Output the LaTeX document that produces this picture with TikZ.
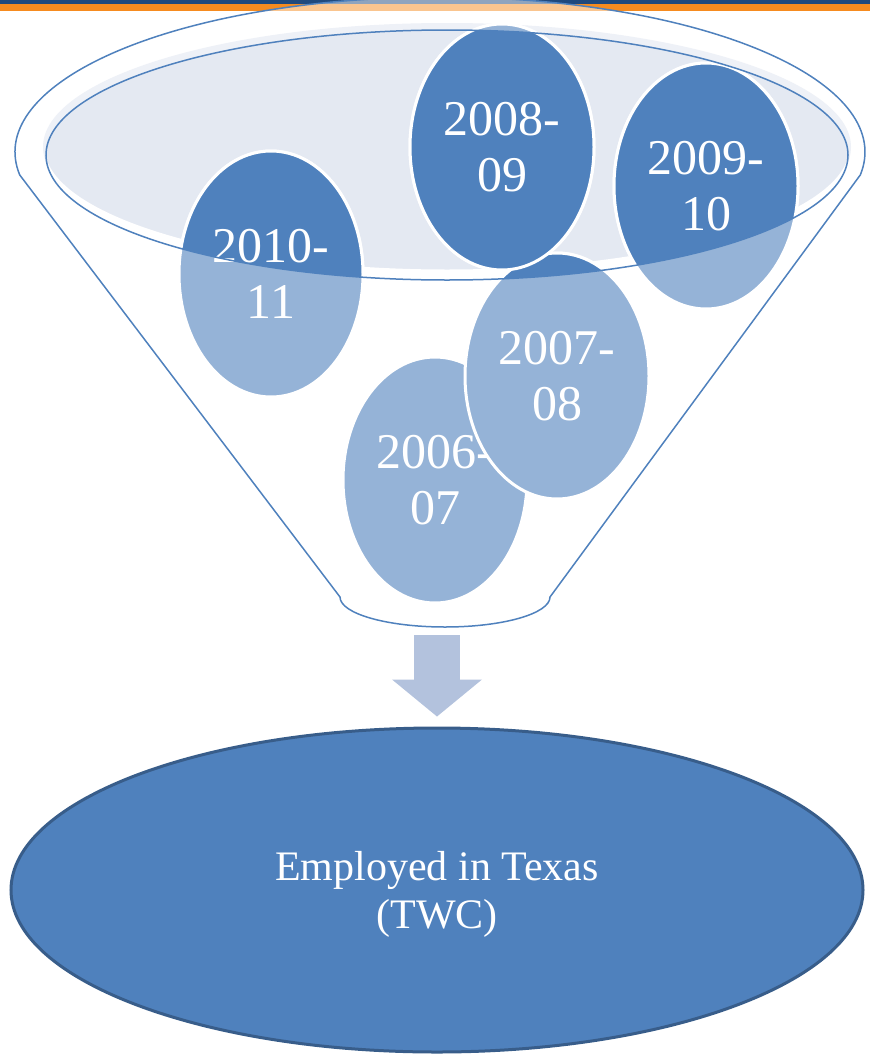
\documentclass[tikz,border=0pt]{standalone}
\usepackage{fontspec}
\setmainfont{Liberation Serif}
\usepackage{tikz}
\usetikzlibrary{shapes.geometric, arrows.meta}

\definecolor{accentblue}{HTML}{4F81BD}
\definecolor{paleblue}{HTML}{95B3D7}
\definecolor{rimfill}{HTML}{E4E9F2}
\definecolor{rimglow}{HTML}{EEF1F7}
\definecolor{flowblue}{HTML}{B3C2DD}
\definecolor{twcborder}{HTML}{385D8A}
\definecolor{barblue}{HTML}{1F497D}
\definecolor{barorange}{HTML}{F68B1F}

\tikzset{
  year/.style={ellipse, fill=paleblue, draw=white, line width=1.5pt, minimum width=92pt, minimum height=123pt, inner sep=0pt, text=white, align=center, font=\fontsize{25}{28}\selectfont},
  yeardark/.style={year, fill=accentblue},
  rim/.style={draw=accentblue, line width=0.75pt},
  twc/.style={ellipse, fill=accentblue, draw=twcborder, line width=1.5pt, minimum width=426pt, minimum height=162pt, inner sep=0pt, text=white, align=center, text depth=0pt, font=\fontsize{21}{24}\selectfont},
  flow/.style={draw=flowblue, line width=23pt, shorten <=5pt, shorten >=5pt, -{Triangle[length=18.5pt, width=45pt, line width=0pt]}}
}

\begin{document}
\begin{tikzpicture}[x=0.5pt, y=-0.5pt]
    \useasboundingbox (0,0) rectangle (870,1055);
    % header bar
    \fill[barblue] (0,0) rectangle (870,4);
    \fill[barorange] (0,4) rectangle (870,11);

    % funnel body
    \draw[rim, fill=white, fill opacity=0.5] (19.7,174.9)
        arc[start angle=171.5, end angle=368.5, x radius=425, y radius=155]
        -- (550,597) arc[start angle=0, end angle=180, x radius=105, y radius=30] -- cycle;

    % mouth of the funnel
    \fill[rimglow] (447,147) ellipse[x radius=404, y radius=124];
    \begin{scope}
        \clip (447,155) ellipse[x radius=401, y radius=125];
        \draw[white, line width=1.5pt, fill=rimfill] (447,147) ellipse[x radius=404, y radius=124];
    \end{scope}

    % school years
    \foreach \tag/\px/\py/\ya/\yb in {0607/435/480/2006/07, 0708/557/376/2007/08, 0809/502/147/2008/09, 0910/706/186/2009/10, 1011/271/274/2010/11}
        \node[year] (y\tag) at (\px,\py) {\ya-\\\yb};
    \begin{scope}
        \clip (447,155) ellipse[x radius=401, y radius=125];
        \foreach \tag/\px/\py/\ya/\yb in {0607/435/480/2006/07, 0708/557/376/2007/08, 0809/502/147/2008/09, 0910/706/186/2009/10, 1011/271/274/2010/11}
            \node[yeardark] (y\tag dark) at (\px,\py) {\ya-\\\yb};
    \end{scope}
    \draw[rim] (447,155) ellipse[x radius=401, y radius=125];

    % outcome
    \coordinate (spout) at (437,625);
    \node[twc] (twc) at (437,890) {Employed in Texas\\(TWC)};
    \draw[flow] (spout) -- (spout |- twc.north);
\end{tikzpicture}
\end{document}
